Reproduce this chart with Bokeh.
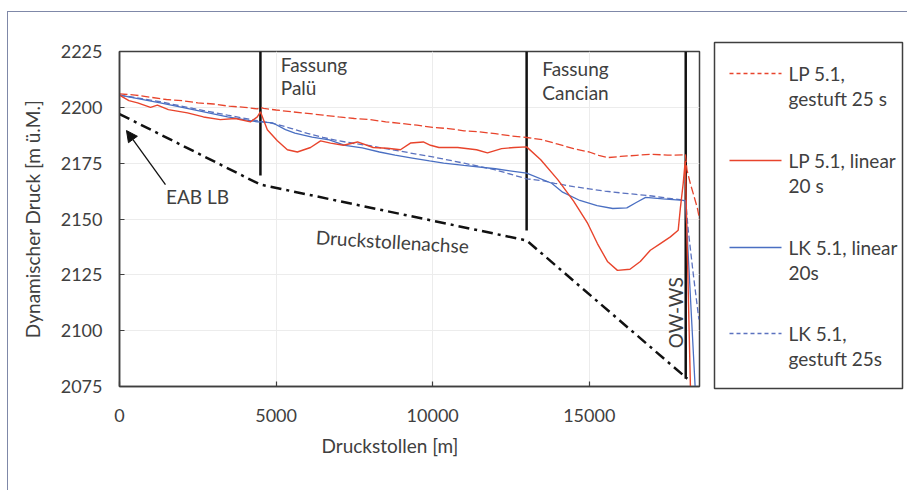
import math
from bokeh.plotting import figure
from bokeh.models import Range1d, FixedTicker, Arrow, NormalHead, Title
from bokeh.layouts import row
from bokeh.core.properties import value
from bokeh.embed import file_html
from bokeh.resources import INLINE

# ---------------- data ----------------
x_ticks = [0, 5000, 10000, 15000]
y_ticks = [2075, 2100, 2125, 2150, 2175, 2200, 2225]

# LP 5.1, gestuft 25 s  (red dashed)
lp_gest_x = [0, 500, 1000, 1500, 2000, 2500, 3000, 3500, 4000, 4400, 4500, 4600,
             5000, 5500, 6000, 6500, 7000, 7500, 8000, 8500, 9000, 9500, 10000,
             10500, 11000, 11500, 12000, 12500, 13000, 13500, 14000, 14500, 15000,
             15300, 15600, 16000, 16500, 17000, 17500, 18000, 18070, 18120, 18225,
             18450, 18520]
lp_gest_y = [2206, 2205.5, 2204.5, 2203.5, 2203, 2202, 2201.5, 2200.5, 2200, 2199.3,
             2200, 2199.5, 2198.8, 2198, 2197.3, 2196.5, 2195.7, 2195, 2194.5, 2193.5,
             2192.8, 2192, 2191, 2190.5, 2189.5, 2189, 2188.2, 2187.2, 2186.5, 2185.5,
             2183.5, 2181.5, 2180, 2178.5, 2177.5, 2178, 2178.5, 2179, 2178.6, 2178.7,
             2179, 2172, 2166, 2155, 2150]

# LP 5.1, linear 20 s  (red solid)
lp_lin_x = [0, 300, 580, 990, 1210, 1560, 2170, 2680, 3220, 3700, 4180, 4400, 4500,
            4720, 5040, 5360, 5680, 6100, 6420, 6740, 7150, 7600, 8100, 8550, 8970,
            9290, 9700, 9930, 10200, 10800, 11400, 11750, 12200, 12600, 13000, 13450,
            14000, 14500, 14950, 15260, 15580, 15900, 16300, 16630, 16950, 17270,
            17590, 17840, 17910, 18000, 18065, 18230]
lp_lin_y = [2205.5, 2203, 2202, 2200, 2201, 2199, 2197.5, 2195.7, 2194.5, 2195, 2193.5,
            2195.7, 2198, 2190, 2185, 2181, 2180, 2182, 2185, 2184, 2183, 2184.5, 2182,
            2181.7, 2181, 2184, 2184.5, 2183, 2182, 2182, 2181, 2179.6, 2181.5, 2182,
            2182.3, 2176.5, 2167.5, 2158, 2148, 2139, 2131, 2127, 2127.5, 2131, 2136,
            2139, 2142, 2145, 2155, 2166, 2176, 2075]

# LK 5.1, linear 20s  (blue solid)
lk_lin_x = [0, 1300, 2350, 3450, 4400, 4500, 4900, 5300, 5600, 6150, 6700, 7200, 7750,
            8300, 8800, 9350, 9900, 10350, 11000, 12000, 13000, 13800, 14150, 14700,
            15250, 15750, 16200, 16500, 16800, 17350, 18000, 18070, 18380]
lk_lin_y = [2205.5, 2202, 2199, 2195.7, 2193.5, 2193.5, 2193, 2190, 2188.5, 2186.7,
            2185.4, 2183, 2181.8, 2180, 2178.6, 2177.3, 2176, 2175, 2174, 2172.5,
            2170.5, 2166, 2162, 2158.3, 2156, 2154.7, 2155, 2157.4, 2159.7, 2159,
            2158.3, 2158, 2075]

# LK 5.1, gestuft 25s  (blue dashed)
lk_gest_x = [0, 1300, 2350, 3450, 4400, 4500, 5000, 5500, 6000, 6500, 7000, 7500, 8000,
             8500, 9000, 9500, 10000, 11000, 12000, 13000, 13500, 13900, 14500, 15000,
             15500, 16000, 16500, 17000, 17500, 18000, 18080, 18160, 18320, 18500]
lk_gest_y = [2205.5, 2202.5, 2199.5, 2196.5, 2194, 2193.8, 2192.5, 2190.5, 2188.3,
             2186.5, 2185, 2183.8, 2182.8, 2181.5, 2180.3, 2179, 2177.8, 2175, 2172,
             2168, 2167.2, 2166, 2164.5, 2163.5, 2162.5, 2161.7, 2161, 2160.3, 2159.3,
             2158.5, 2158.3, 2145, 2125.5, 2105]

# Druckstollenachse (black dash-dot)
achse_x = [0, 4500, 13000, 18130]
achse_y = [2197, 2165.4, 2140.4, 2078.5]

# structures (vertical lines)
station_names = ["Fassung\nPalü", "Fassung\nCancian", "OW-WS"]
station_x = [4500, 13000, 18080]
station_bottom = [2169.5, 2144.8, 2078.5]
station_top = [2225, 2225, 2225]

series_names = ["LP 5.1,\ngestuft 25 s", "LP 5.1, linear\n20 s",
                "LK 5.1, linear\n20s", "LK 5.1,\ngestuft 25s"]

# ---------------- styling ----------------
FONT = "Lato"
TXT = "#404040"
FRAME = "#3f3f3f"
RED = "#e8442c"
BLUE = "#4a6fc2"
BLUE_D = "#5b72bf"

pA = figure(width=699, height=478,
            x_range=Range1d(0, 18520), y_range=Range1d(2075, 2225),
            output_backend="svg", toolbar_location=None,
            min_border_left=111, min_border_right=8,
            min_border_top=39, min_border_bottom=104)
pA.background_fill_color = "white"
pA.border_fill_color = "white"
pA.outline_line_color = FRAME
pA.outline_line_width = 1.5

for ax in (pA.xaxis[0], pA.yaxis[0]):
    ax.axis_line_color = FRAME
    ax.axis_line_width = 1.5
    ax.major_tick_line_color = FRAME
    ax.major_tick_line_width = 1.2
    ax.major_tick_in = 5
    ax.major_tick_out = 0
    ax.minor_tick_line_color = None
    ax.major_label_text_font = FONT
    ax.major_label_text_font_size = "18px"
    ax.major_label_text_color = TXT
    ax.axis_label_text_font = FONT
    ax.axis_label_text_font_size = "19px"
    ax.axis_label_text_font_style = "normal"
    ax.axis_label_text_color = TXT

pA.xaxis.ticker = FixedTicker(ticks=x_ticks)
pA.yaxis.ticker = FixedTicker(ticks=y_ticks)
pA.xaxis.major_label_standoff = 22
pA.yaxis.major_label_standoff = 17
pA.yaxis.axis_label = "Dynamischer Druck [m ü.M.]"
pA.yaxis.axis_label_standoff = 14

pA.xgrid.ticker = FixedTicker(ticks=x_ticks)
pA.ygrid.ticker = FixedTicker(ticks=y_ticks)
pA.xgrid.grid_line_color = "#ececec"
pA.ygrid.grid_line_color = "#ececec"

# x-axis title (placed like the reference, slightly left of centre)
pA.add_layout(Title(text="Druckstollen [m]", align="left", offset=202,
                    standoff=14, text_font=FONT, text_font_size="19px",
                    text_font_style="normal", text_color=TXT), "below")

# Druckstollenachse
pA.line(achse_x, achse_y, line_color="#111111", line_width=2.5,
        line_dash="11 5 3 5")

# vertical structure lines
pA.segment(x0=station_x, y0=station_bottom, x1=station_x, y1=station_top,
           line_color="#111111", line_width=2.5)

# series
pA.line(lp_gest_x, lp_gest_y, line_color=RED, line_width=1.3, line_dash="8 3")
pA.line(lk_gest_x, lk_gest_y, line_color=BLUE_D, line_width=1.3, line_dash="6 3")
pA.line(lk_lin_x, lk_lin_y, line_color=BLUE, line_width=1.3)
pA.line(lp_lin_x, lp_lin_y, line_color=RED, line_width=1.4)

# annotations
txt_kw = dict(text_font=value(FONT), text_font_size="19px", text_color=TXT)
palu1, palu2 = station_names[0].split("\n")
canc1, canc2 = station_names[1].split("\n")
pA.text(x=[5150, 5150], y=[2219.2, 2208.9], text=[palu1, palu2],
        text_align="left", text_baseline="middle", **txt_kw)
pA.text(x=[13500, 13500], y=[2217.4, 2206.8], text=[canc1, canc2],
        text_align="left", text_baseline="middle", **txt_kw)
pA.text(x=[17750], y=[2108], text=[station_names[2]], angle=math.pi / 2,
        text_align="center", text_baseline="middle", **txt_kw)
pA.text(x=[2490], y=[2160.1], text=["EAB LB"],
        text_align="center", text_baseline="middle", **txt_kw)
pA.text(x=[8713], y=[2140], text=["Druckstollenachse"], angle=-0.06,
        text_align="center", text_baseline="middle", **txt_kw)

pA.add_layout(Arrow(end=NormalHead(size=11, fill_color="#111111",
                                   line_color="#111111"),
                    x_start=1468, y_start=2165.4, x_end=223, y_end=2189.6,
                    line_color="#111111", line_width=1.3))

# ---------------- legend panel ----------------
pB = figure(width=200, height=478, x_range=Range1d(0, 200), y_range=Range1d(478, 0),
            output_backend="svg", toolbar_location=None,
            x_axis_type=None, y_axis_type=None, min_border=0)
pB.frame_align = False
pB.background_fill_color = "white"
pB.border_fill_color = "white"
pB.outline_line_color = None
pB.xgrid.visible = False
pB.ygrid.visible = False

pB.quad(left=[7], right=[195], top=[30], bottom=[376], fill_color=None,
        line_color=FRAME, line_width=1.5)

leg_styles = [dict(line_color=RED, line_width=1.3, line_dash="4 3"),
              dict(line_color=RED, line_width=1.5),
              dict(line_color=BLUE, line_width=1.3),
              dict(line_color=BLUE_D, line_width=1.3, line_dash="4 3")]
leg_y = [61, 148, 235, 321]
for name, st, yy in zip(series_names, leg_styles, leg_y):
    pB.line([22, 74], [yy, yy], **st)
    l1, l2 = name.split("\n")
    pB.text(x=[81, 81], y=[yy, yy + 25], text=[l1, l2], text_align="left",
            text_baseline="middle", **txt_kw)

layout = row(pA, pB, margin=(11, 0, 0, 7),
             styles={"border-top": "1px solid #7f88a8",
                     "border-left": "1px solid #7f88a8"})

open("out.html", "w").write(file_html(layout, INLINE))
